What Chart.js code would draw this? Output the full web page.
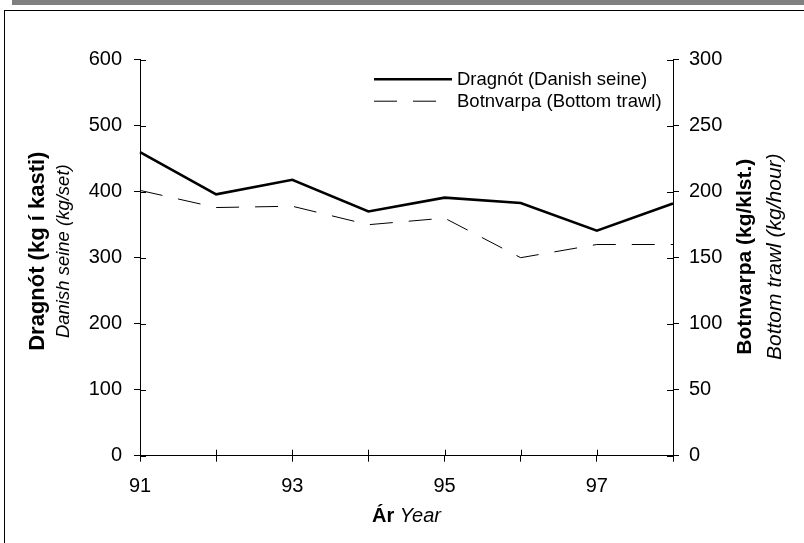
<!DOCTYPE html>
<html>
<head>
<meta charset="utf-8">
<script src="https://cdn.jsdelivr.net/npm/chart.js@4/dist/chart.umd.min.js"></script>
<style>
html,body{margin:0;padding:0;background:#fff;}
#wrap{position:relative;width:804px;height:543px;overflow:hidden;background:#fff;}
#band{position:absolute;left:12px;top:0;width:792px;height:5px;background:#808080;}
#frame{position:absolute;left:4px;top:10px;width:820px;height:560px;border-left:1px solid #000;border-top:1px solid #000;}
canvas{position:absolute;left:0;top:0;}
</style>
</head>
<body>
<div id="wrap"><div id="band"></div><div id="frame"></div><canvas id="c" width="804" height="543"></canvas></div>
<script>
// ---- data ----
const years = ['91','92','93','94','95','96','97','98'];
const xTickLabels = ['91','','93','','95','','97',''];
const danishSeine = [460, 396, 418, 370, 391, 383, 341, 382];   // kg/set (left axis)
const bottomTrawl = [201, 188, 189, 175, 180, 150, 160, 160];   // kg/hour (right axis)
const seriesLabels = ['Dragnót (Danish seine)', 'Botnvarpa (Bottom trawl)'];
const leftTitle = ['Dragnót (kg í kasti)', 'Danish seine (kg/set)'];
const rightTitle = ['Botnvarpa (kg/klst.)', 'Bottom trawl (kg/hour)'];
const xTitle = ['Ár', 'Year'];

const FONT = "'Liberation Sans', Arial, Helvetica, sans-serif";
const TICK_SIZE = 20;

// inward halves of the axis ticks (ticks cross the axis lines)
const innerTicks = {
  id: 'innerTicks',
  afterDatasetsDraw(chart) {
    const ctx = chart.ctx, ca = chart.chartArea, L = 6;
    ctx.save();
    ctx.strokeStyle = '#000';
    ctx.lineWidth = 1;
    ctx.beginPath();
    const xs = chart.scales.x;
    xs.ticks.forEach((t, i) => {
      const px = Math.round(xs.getPixelForTick(i)) + 0.5;
      ctx.moveTo(px, ca.bottom); ctx.lineTo(px, ca.bottom - L);
    });
    const yl = chart.scales.y;
    yl.ticks.forEach((t, i) => {
      const py = Math.round(yl.getPixelForTick(i)) + 0.5;
      ctx.moveTo(ca.left, py); ctx.lineTo(ca.left + L, py);
    });
    const yr = chart.scales.y2;
    yr.ticks.forEach((t, i) => {
      const py = Math.round(yr.getPixelForTick(i)) + 0.5;
      ctx.moveTo(ca.right, py); ctx.lineTo(ca.right - L, py);
    });
    ctx.stroke();
    ctx.restore();
  }
};

// axis titles with mixed bold / italic styles
const axisTitles = {
  id: 'axisTitles',
  afterDraw(chart) {
    const ctx = chart.ctx, ca = chart.chartArea;
    ctx.save();
    ctx.fillStyle = '#000';
    ctx.textAlign = 'center';
    ctx.textBaseline = 'alphabetic';
    const vert = (text, font, x, y) => {
      ctx.save();
      ctx.translate(x, y);
      ctx.rotate(-Math.PI / 2);
      ctx.font = font;
      ctx.fillText(text, 0, 0);
      ctx.restore();
    };
    const cyL = ca.top + (ca.bottom - ca.top) / 2 - 6.5;
    const cyR = ca.top + (ca.bottom - ca.top) / 2 - 1;
    vert(leftTitle[0], `bold 22px ${FONT}`, ca.left - 96, cyL);
    vert(leftTitle[1], `italic 18.5px ${FONT}`, ca.left - 71, cyL);
    vert(rightTitle[0], `bold 21px ${FONT}`, ca.right + 78, cyR);
    vert(rightTitle[1], `italic 21px ${FONT}`, ca.right + 107.5, cyR);
    // x title: bold + italic on one line
    const fb = `bold 20px ${FONT}`, fi = `italic 20px ${FONT}`;
    ctx.font = fb; const wb = ctx.measureText(xTitle[0] + ' ').width;
    ctx.font = fi; const wi = ctx.measureText(xTitle[1]).width;
    const cx = (ca.left + ca.right) / 2;
    const x0 = cx - (wb + wi) / 2, by = ca.bottom + 66.5;
    ctx.textAlign = 'left';
    ctx.font = fb; ctx.fillText(xTitle[0] + ' ', x0, by);
    ctx.font = fi; ctx.fillText(xTitle[1], x0 + wb, by);
    ctx.restore();
  }
};

// legend inside the plot, top right
const lineLegend = {
  id: 'lineLegend',
  afterDraw(chart) {
    const ctx = chart.ctx, ca = chart.chartArea;
    ctx.save();
    ctx.fillStyle = '#000';
    ctx.font = `18.5px ${FONT}`;
    ctx.textAlign = 'left';
    ctx.textBaseline = 'middle';
    chart.data.datasets.forEach((ds, i) => {
      const y = ca.top + 19.5 + i * 22;
      const x0 = ca.left + 234;
      ctx.strokeStyle = ds.borderColor;
      ctx.lineWidth = ds.borderWidth;
      ctx.setLineDash(ds.borderDash || []);
      ctx.beginPath();
      ctx.moveTo(x0, y); ctx.lineTo(x0 + 78, y);
      ctx.stroke();
      ctx.setLineDash([]);
      ctx.fillText(ds.label, x0 + 83, y + 1);
    });
    ctx.restore();
  }
};

new Chart(document.getElementById('c'), {
  type: 'line',
  data: {
    labels: years,
    datasets: [
      { label: seriesLabels[0], data: danishSeine, yAxisID: 'y', borderColor: '#000', borderWidth: 2.6,
        pointRadius: 0, tension: 0, fill: false },
      { label: seriesLabels[1], data: bottomTrawl, yAxisID: 'y2', borderColor: '#000', borderWidth: 1,
        borderDash: [23, 16], pointRadius: 0, tension: 0, fill: false }
    ]
  },
  options: {
    responsive: false,
    devicePixelRatio: 1,
    animation: false,
    layout: { padding: { top: 59.7, left: 0, right: 0, bottom: 0 } },
    plugins: { legend: { display: false }, tooltip: { enabled: false } },
    scales: {
      x: {
        type: 'category',
        offset: false,
        grid: { display: true, drawOnChartArea: false, drawTicks: true, tickLength: 6, color: '#000', lineWidth: 1 },
        border: { display: true, color: '#000', width: 1 },
        ticks: { autoSkip: false, maxRotation: 0, padding: 13, color: '#000', font: { family: FONT, size: TICK_SIZE },
                 callback: (v, i) => xTickLabels[i] },
        afterFit: s => { s.height = 87.3; }
      },
      y: {
        position: 'left', min: 0, max: 600,
        grid: { display: true, drawOnChartArea: false, drawTicks: true, tickLength: 6, color: '#000', lineWidth: 1 },
        border: { display: true, color: '#000', width: 1 },
        ticks: { stepSize: 100, padding: 12, color: '#000', font: { family: FONT, size: TICK_SIZE } },
        afterFit: s => { s.width = 140; }
      },
      y2: {
        position: 'right', min: 0, max: 300,
        grid: { display: true, drawOnChartArea: false, drawTicks: true, tickLength: 6, color: '#000', lineWidth: 1 },
        border: { display: true, color: '#000', width: 1 },
        ticks: { stepSize: 50, padding: 10, color: '#000', font: { family: FONT, size: TICK_SIZE } },
        afterFit: s => { s.width = 131; }
      }
    }
  },
  plugins: [innerTicks, axisTitles, lineLegend]
});
</script>
</body>
</html>
